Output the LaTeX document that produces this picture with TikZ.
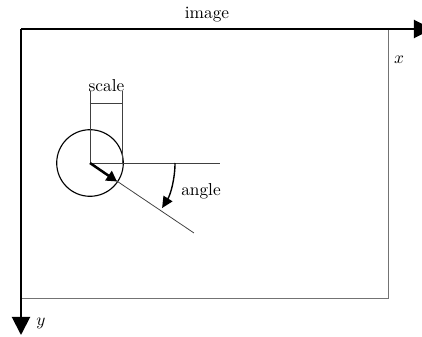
\documentclass[tikz,border=0pt]{standalone}
\usetikzlibrary{arrows.meta}
\begin{document}
\begin{tikzpicture}[x=0.578pt,y=-0.578pt,
  axis/.style={line width=1.15pt,-{Triangle[length=10.5pt,width=10.5pt]}},
  frame/.style={line width=0.45pt,black!55},
  thinline/.style={line width=0.45pt,black!75},
  dir/.style={line width=1.45pt,-{Triangle[length=6pt,width=6.5pt]}},
  rot/.style={line width=0.8pt,-{Triangle[length=6.5pt,width=6pt]}},
  lbl/.style={inner sep=0pt}]
\useasboundingbox (0,0) rectangle (422,337);
\coordinate (O) at (21,29);
\coordinate (XE) at (432,29);
\coordinate (YE) at (21,335);
\coordinate (R) at (388,298);
\draw[frame] (O) rectangle (R);
\draw[axis] (O) -- (XE);
\draw[axis] (O) -- (YE);
\node[lbl] (image) at (207,15) {image};
\node[lbl] (xl) at (399,60) {$x$};
\node[lbl] (yl) at (41,323) {$y$};
% blob
\coordinate (C) at (90,163);
\node[draw,circle,line width=0.65pt,minimum size=38.5pt,inner sep=0pt] (blob) at (C) {};
\coordinate (H) at (220,163);
\coordinate (D) at (194,233);
\draw[thinline] (C) -- (H);
\draw[thinline] (C) -- (D);
% scale
\coordinate (S1) at (90,91);
\coordinate (S2b) at (122.7,163);
\coordinate (S2) at (122.7,91);
\coordinate (B1) at (90,103.3);
\coordinate (B2) at (122.7,103.3);
\draw[thinline] (C) -- (S1);
\draw[thinline] (S2b) -- (S2);
\draw[thinline] (B1) -- (B2);
\node[lbl] (scale) at (106.5,86) {scale};
% direction arrow
\coordinate (T) at (117,181.5);
\draw[dir] (C) -- (T);
% angle
\coordinate (A0) at (175,163);
\draw[rot] (A0) arc[start angle=0,end angle=32,radius=85];
\node[lbl] (angle) at (201,191) {angle};
\end{tikzpicture}
\end{document}
